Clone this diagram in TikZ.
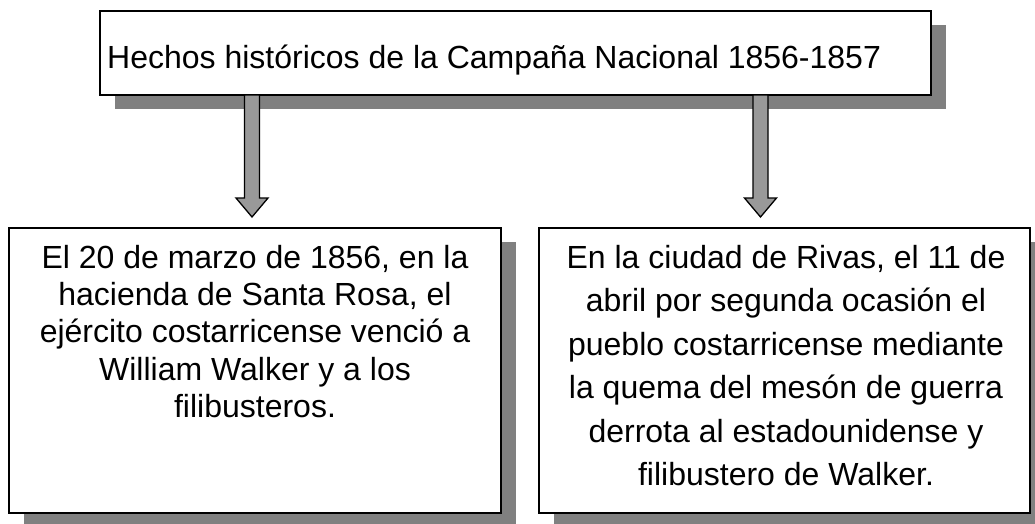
\documentclass[tikz,border=0pt]{standalone}
\usepackage{fontspec}
\setmainfont{Liberation Sans}
\usetikzlibrary{shadows,calc}
\definecolor{shadowgray}{HTML}{808080}
\definecolor{arrowgray}{HTML}{999999}
\begin{document}
\begin{tikzpicture}[x=1pt,y=-1pt,
  box/.style={draw=black,line width=1.3pt,fill=white,rectangle,inner sep=0pt,outer sep=0pt,anchor=north west,
    general shadow={fill=shadowgray,shadow xshift=15pt,shadow yshift=-14pt}},
  txt/.style={font=\fontsize{32}{37.3}\selectfont,inner sep=0pt,align=center},
  txtwide/.style={font=\fontsize{32}{43.5}\selectfont,inner sep=0pt,align=center},
  blockarrow/.style={draw=black,line width=1.3pt,fill=arrowgray,line join=miter}]
\useasboundingbox (0,0) rectangle (1035,523);
% boxes
\node[box,minimum width=831pt,minimum height=84pt] (top) at (100,11) {};
\node[box,minimum width=492pt,minimum height=285pt] (left) at (9,228) {};
\node[box,minimum width=491pt,minimum height=285pt] (right) at (539,228) {};
% texts
\node[txt,anchor=base west] (toptext) at (107,68) {Hechos históricos de la Campaña Nacional 1856-1857};
\node[txt,anchor=north] (lefttext) at (255,245) {El 20 de marzo de 1856, en la\\hacienda de Santa Rosa, el\\ejército costarricense venció a\\William Walker y a los\\filibusteros.};
\node[txtwide,anchor=north] (righttext) at (786,245) {En la ciudad de Rivas, el 11 de\\abril por segunda ocasión el\\pueblo costarricense mediante\\la quema del mesón de guerra\\derrota al estadounidense y\\filibustero de Walker.};
% arrows
\coordinate (tipL) at (252,217);
\coordinate (tipR) at (760.5,217);
\foreach \t in {tipL,tipR}{
\draw[blockarrow] ($(top.south -| \t)+(-7.5,0)$) -- ($(\t)+(-7.5,-19)$) -- ($(\t)+(-16,-19)$) -- (\t) -- ($(\t)+(16,-19)$) -- ($(\t)+(7.5,-19)$) -- ($(top.south -| \t)+(7.5,0)$) -- cycle;
}
\end{tikzpicture}
\end{document}
